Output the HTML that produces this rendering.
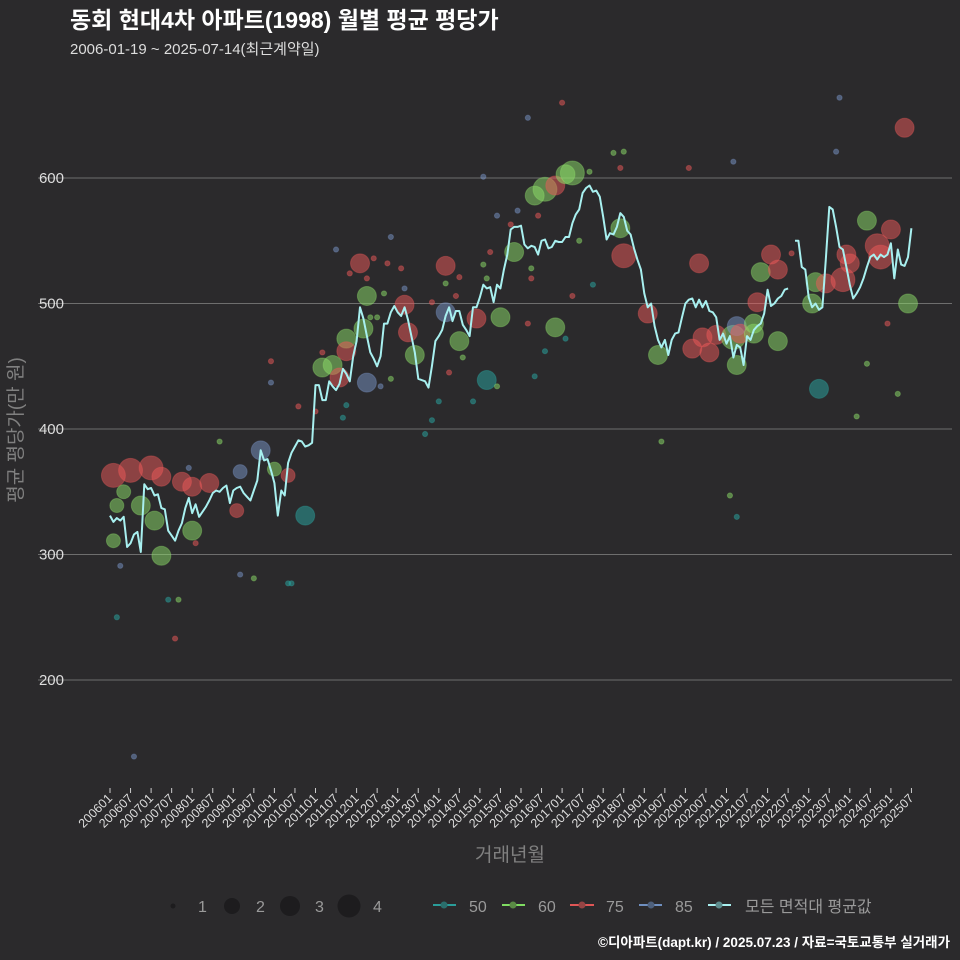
<!DOCTYPE html>
<html><head><meta charset="utf-8">
<style>
html,body{margin:0;padding:0;background:#2b2a2c;}
svg{display:block;font-family:"Liberation Sans","Noto Sans CJK KR",sans-serif;}
</style></head>
<body>
<svg id="chart" width="960" height="960" viewBox="0 0 960 960">
<rect x="0" y="0" width="960" height="960" fill="#2b2a2c"/>
<text x="70" y="28" font-size="23" font-weight="bold" fill="#ffffff">동회 현대4차 아파트(1998) 월별 평균 평당가</text>
<text x="70" y="54" font-size="15" fill="#dddddd">2006-01-19 ~ 2025-07-14(최근계약일)</text>
<g id="grid"></g>
<g id="yticks"></g>
<g id="xticks"></g>
<g id="points"></g>
<g id="line"></g>
<text transform="translate(22,430) rotate(-90)" text-anchor="middle" font-size="19" fill="#808080">평균 평당가(만 원)</text>
<text x="510" y="861" text-anchor="middle" font-size="19" fill="#808080">거래년월</text>
<g>
<circle cx="173" cy="906" r="2.5" fill="#1d1c1e"/>
<text x="198" y="912" font-size="16" fill="#9a9a9a">1</text>
<circle cx="232" cy="906" r="8" fill="#1d1c1e"/>
<text x="256" y="912" font-size="16" fill="#9a9a9a">2</text>
<circle cx="290" cy="906" r="10" fill="#1d1c1e"/>
<text x="315" y="912" font-size="16" fill="#9a9a9a">3</text>
<circle cx="349" cy="906" r="11.5" fill="#1d1c1e"/>
<text x="373" y="912" font-size="16" fill="#9a9a9a">4</text>
</g>
<g>
<g><line x1="433" y1="905" x2="456" y2="905" stroke="#2a9d9a" stroke-width="2"/><circle cx="444" cy="905" r="3.5" fill="#2a6e6c"/><text x="469" y="912" font-size="16" fill="#9a9a9a">50</text></g>
<g><line x1="502" y1="905" x2="525" y2="905" stroke="#7fdc62" stroke-width="2"/><circle cx="513" cy="905" r="3.5" fill="#5a8a45"/><text x="538" y="912" font-size="16" fill="#9a9a9a">60</text></g>
<g><line x1="570" y1="905" x2="594" y2="905" stroke="#e05656" stroke-width="2"/><circle cx="582" cy="905" r="3.5" fill="#964444"/><text x="606" y="912" font-size="16" fill="#9a9a9a">75</text></g>
<g><line x1="639" y1="905" x2="662" y2="905" stroke="#6f8fc0" stroke-width="2"/><circle cx="651" cy="905" r="3.5" fill="#4e607c"/><text x="675" y="912" font-size="16" fill="#9a9a9a">85</text></g>
<g><line x1="708" y1="905" x2="731" y2="905" stroke="#a8f0f0" stroke-width="2"/><circle cx="719" cy="905" r="3.5" fill="#5d8b8c"/><text x="745" y="912" font-size="16" fill="#9a9a9a">모든 면적대 평균값</text></g>
</g>
<text x="950" y="947" text-anchor="end" font-size="13.5" font-weight="bold" fill="#ffffff">©디아파트(dapt.kr) / 2025.07.23 / 자료=국토교통부 실거래가</text>
</svg>
<script>
const yTicks = [200, 300, 400, 500, 600];
const xLabels = [];
for (let y = 2006; y <= 2025; y++) { xLabels.push(y + "01"); xLabels.push(y + "07"); }
// monthly average (index 0 = 2006-01), null = no data
const avgValues = [331,326,329,327,330,306,309,316,318,302,356,352,353,347,348,337,336,319,315,311,
319,325,337,345,333,340,330,334,338,343,349,351,350,353,355,341,351,353,354,349,
346,343,351,359,383,375,376,367,357,331,351,347,373,381,386,391,390,386,387,389,
435,435,423,423,438,434,431,436,448,444,438,458,470,497,488,474,461,456,450,458,
484,484,493,498,493,490,497,487,474,461,440,439,438,433,450,470,474,479,490,497,
486,494,494,483,479,474,497,497,505,515,512,513,501,515,512,527,539,559,561,561,
562,547,544,546,545,539,550,551,544,545,550,549,549,553,553,564,571,575,588,592,
594,589,590,585,569,551,556,555,561,572,569,558,555,544,535,527,508,497,500,482,
471,465,471,459,471,476,477,489,500,503,504,497,503,497,502,494,493,489,471,476,
468,474,457,467,465,451,474,471,479,482,484,492,511,498,500,504,506,511,512,null,
550,550,529,527,505,497,500,495,497,535,577,575,561,545,543,529,515,504,508,513,
520,529,537,539,535,539,537,539,548,520,543,531,530,537,560];
// individual trades: month index, value, area class, count
const ptMonth = [1,6,12,2,4,1,2,3,7,13,9,15,15,17,20,19,21,24,24,23,29,25,32,37,38,38,42,44,47,48,52,52,57,47,55,53,
73,75,74,69,69,62,65,67,75,86,87,89,98,98,102,107,114,110,118,124,127,130,135,133,130,
109,113,119,117,125,111,82,66,77,81,85,70,75,98,102,109,110,123,123,101,94,86,80,76,78,122,135,141,137,140,127,133,124,113,106,96,94,92,99,103,82,79,69,68,60,62,122,132,147,
149,150,157,160,172,170,173,175,177,182,183,184,188,188,183,190,193,195,195,189,206,209,205,214,215,216,221,224,225,228,233,207,232,
150,149,161,181,183,182,169,213,212,199,218,230,227,221];
const ptValue = [363,367,369,339,350,311,250,291,139,327,339,362,299,264,264,233,358,354,319,369,357,309,390,335,366,284,281,383,454,368,363,277,331,437,418,277,
532,506,480,472,462,449,451,441,437,499,477,459,530,493,470,488,489,439,541,586,591,594,604,603,481,
601,570,574,563,570,541,553,543,536,532,528,524,520,516,521,531,520,528,520,506,501,512,508,489,489,484,506,515,550,605,462,472,442,434,422,422,407,396,445,457,440,434,419,409,414,461,648,660,620,
560,538,492,459,532,464,473,461,475,473,482,476,484,476,451,525,539,527,470,501,517,516,500,519,539,532,566,546,537,559,500,432,640,
621,608,390,347,330,613,608,664,621,540,410,428,484,452];
const ptArea = [75,75,75,60,60,60,50,85,85,60,60,75,60,50,60,75,75,75,60,85,75,75,60,75,85,85,60,85,75,60,75,50,50,85,75,50,
75,60,60,60,75,60,60,75,85,75,75,60,75,85,60,75,60,50,60,60,60,75,60,60,60,
85,85,85,75,75,75,85,85,75,75,75,75,75,60,75,60,60,60,75,75,75,85,60,60,60,75,75,50,60,60,50,50,50,60,50,50,50,50,75,60,60,85,50,50,75,75,85,75,60,
60,75,75,60,75,75,75,75,75,60,85,75,60,60,60,60,75,75,60,75,60,75,60,75,75,75,60,75,75,75,60,50,75,
60,75,60,60,50,85,75,85,85,75,60,60,75,60];
const ptCount = [4,4,4,2,2,2,1,1,1,3,3,3,3,1,1,1,3,3,3,1,3,1,1,2,2,1,1,3,1,2,2,1,3,1,1,1,
3,3,3,3,3,3,3,3,3,3,3,3,3,3,3,3,3,3,3,3,4,3,4,3,3,
1,1,1,1,1,1,1,1,1,1,1,1,1,1,1,1,1,1,1,1,1,1,1,1,1,1,1,1,1,1,1,1,1,1,1,1,1,1,1,1,1,1,1,1,1,1,1,1,1,
3,4,3,3,3,3,3,3,3,4,3,3,3,3,3,3,3,3,3,3,3,3,3,4,3,3,3,4,4,3,3,3,3,
1,1,1,1,1,1,1,1,1,1,1,1,1,1];

const NS = "http://www.w3.org/2000/svg";
function xScale(i) { return 110 + i * 3.425; }
function yScale(v) { return 178 + (600 - v) * 1.255; }
const areaColor = {50: "#2aa8a4", 60: "#8ee06a", 75: "#ee5a5a", 85: "#7a96c8"};
const sizeR = {1: 2.6, 2: 7, 3: 9.5, 4: 12};
function mk(tag, attrs, parent) {
  const el = document.createElementNS(NS, tag);
  for (const k in attrs) el.setAttribute(k, attrs[k]);
  parent.appendChild(el);
  return el;
}
const grid = document.getElementById("grid");
const yt = document.getElementById("yticks");
yTicks.forEach(v => {
  const ln = mk("line", {x1: 38, x2: 952, y1: yScale(v), y2: yScale(v), stroke: "#6e6e6e", "stroke-width": 1}, grid);
  
  
  const t = mk("text", {x: 64, y: yScale(v) + 5, "text-anchor": "end", "font-size": 15, fill: "#dddddd"}, yt);
  t.textContent = v;
  
  
});
const xt = document.getElementById("xticks");
xLabels.forEach((lab, k) => {
  const x = xScale(k * 6);
  const tk = mk("line", {x1: x, x2: x, y1: 788, y2: 793, stroke: "#cccccc", "stroke-width": 1}, xt);
  
  
  const t = mk("text", {x: x + 3, y: 799, "text-anchor": "end", "font-size": 12.5, fill: "#dddddd", transform: "rotate(-45 " + (x + 3) + " 799)"}, xt);
  t.textContent = lab;
  
  
});
const pts = document.getElementById("points");
ptMonth.forEach((m, k) => {
  if (ptValue[k] === undefined) return;
  const c = mk("circle", {cx: xScale(m), cy: yScale(ptValue[k]), r: sizeR[ptCount[k]] || 2.6, fill: areaColor[ptArea[k]] || "#8ee06a", "fill-opacity": 0.5, stroke: areaColor[ptArea[k]] || "#8ee06a", "stroke-opacity": 0.35}, pts);
  
  
});
const lineG = document.getElementById("line");
let seg = [];
const segs = [];
avgValues.forEach((v, i) => {
  if (v === null) { if (seg.length) segs.push(seg); seg = []; }
  else seg.push(xScale(i).toFixed(1) + "," + yScale(v).toFixed(1));
});
if (seg.length) segs.push(seg);
segs.forEach(s => {
  const p = mk("polyline", {points: s.join(" "), fill: "none", stroke: "#a8f0f0", "stroke-width": 2, "stroke-linejoin": "round"}, lineG);
  
  
});
</script>
</body></html>
